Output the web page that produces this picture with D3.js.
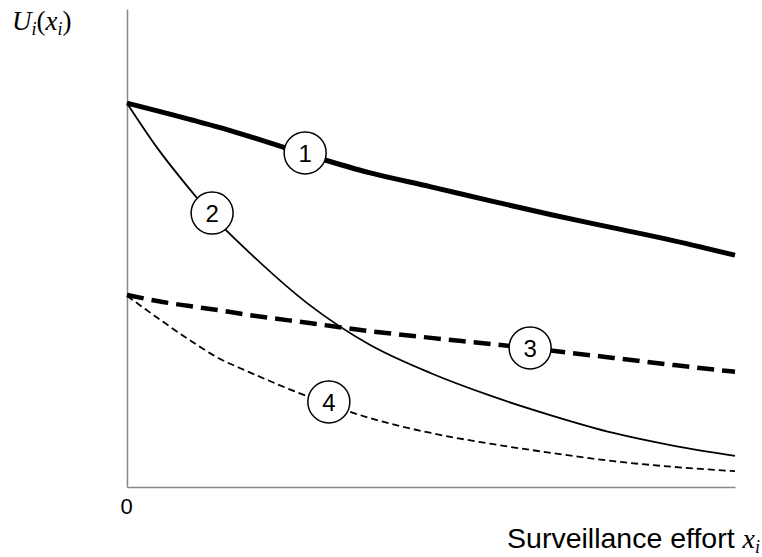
<!DOCTYPE html>
<html><head><meta charset="utf-8">
<script src="https://d3js.org/d3.v7.min.js"></script>
<style>body{margin:0;background:#fff}svg{display:block}</style>
</head><body>
<script>
// Data (x: surveillance effort 0..100, y: utility 0..100)
const xs = [0, 5, 10, 15, 20, 30, 40, 50, 60, 70, 80, 90, 100];
const curve1 = [80.3, 78.7, 77.0, 75.3, 73.4, 69.4, 65.7, 62.8, 59.8, 56.9, 54.2, 51.5, 48.5];
const curve2 = [80.3, 70.9, 62.8, 55.4, 49.2, 38.1, 29.7, 23.8, 19.0, 14.9, 11.3, 8.6, 6.5];
const curve3 = [40.2, 38.9, 37.9, 37.0, 36.0, 34.3, 32.6, 31.2, 29.9, 28.5, 27.0, 25.5, 24.1];
const curve4 = [40.0, 35.4, 31.0, 27.0, 24.1, 18.8, 14.4, 11.3, 9.0, 7.1, 5.4, 4.2, 3.3];
const labelNames = ["1", "2", "3", "4"];
const labelX = [29.3, 14.0, 66.3, 33.2];
const labelY = [69.9, 57.3, 29.1, 17.8];
const xTicks = [0];

const W = 762, H = 557;
const svg = d3.select("body").append("svg").attr("width", W).attr("height", H);

const x = d3.scaleLinear().domain([0, 100]).range([127, 735]);
const y = d3.scaleLinear().domain([0, 100]).range([487, 9]);

// axes
const xAxis = svg.append("g").attr("transform", `translate(0,${y(0)})`)
  .call(d3.axisBottom(x).tickValues(xTicks).tickSize(0).tickPadding(11).tickSizeOuter(0));
xAxis.select(".domain").attr("stroke", "#888").attr("stroke-width", 1.5);
xAxis.selectAll("text").attr("fill", "#000").attr("dx", -1)
  .style("font-size", "22px").style("font-family", "Liberation Sans, Arial, sans-serif");

const yAxis = svg.append("g").attr("transform", `translate(${x(0)},0)`)
  .call(d3.axisLeft(y).tickValues([]).tickSize(0).tickSizeOuter(0));
yAxis.select(".domain").attr("stroke", "#888").attr("stroke-width", 1.5);

const line = d3.line().x((d, i) => x(xs[i])).y(d => y(d)).curve(d3.curveMonotoneX);

const styles = [
  {data: curve1, w: 5, dash: null},
  {data: curve2, w: 1.8, dash: null},
  {data: curve3, w: 4.5, dash: "17,8"},
  {data: curve4, w: 1.8, dash: "7,4"}
];
styles.forEach(s => {
  svg.append("path").attr("d", line(s.data)).attr("fill", "none")
    .attr("stroke", "#000").attr("stroke-width", s.w)
    .attr("stroke-dasharray", s.dash);
});

// circled labels
const lg = svg.append("g").selectAll("g").data(labelNames).join("g")
  .attr("transform", (d, i) => `translate(${x(labelX[i])},${y(labelY[i])})`);
lg.append("circle").attr("r", 21).attr("fill", "#fff").attr("stroke", "#000").attr("stroke-width", 1.5);
lg.append("text").text(d => d).attr("text-anchor", "middle").attr("dy", "0.36em")
  .style("font-family", "Liberation Sans, Arial, sans-serif").style("font-size", "24px");

// y label U_i(x_i)
const yl = svg.append("text").attr("x", 12).attr("y", 30)
  .attr("font-family", "Liberation Serif, Times New Roman, serif").attr("font-style", "italic")
  .attr("font-size", 27);
yl.append("tspan").text("U");
yl.append("tspan").text("i").attr("font-size", 18).attr("dy", 5);
yl.append("tspan").text("(").attr("dy", -5).attr("font-style", "normal");
yl.append("tspan").text("x");
yl.append("tspan").text("i").attr("font-size", 18).attr("dy", 5);
yl.append("tspan").text(")").attr("dy", -5).attr("font-style", "normal");

// x label
const xl = svg.append("text").attr("x", 760).attr("y", 548).attr("text-anchor", "end");
xl.append("tspan").text("Surveillance effort ").attr("font-family", "Liberation Sans, Arial, sans-serif").attr("font-size", 28.5);
xl.append("tspan").text("x").attr("font-family", "Liberation Serif, Times New Roman, serif").attr("font-style", "italic").attr("font-size", 28);
xl.append("tspan").text("i").attr("font-family", "Liberation Serif, Times New Roman, serif").attr("font-style", "italic").attr("font-size", 18).attr("dy", 5);
</script>
</body></html>
